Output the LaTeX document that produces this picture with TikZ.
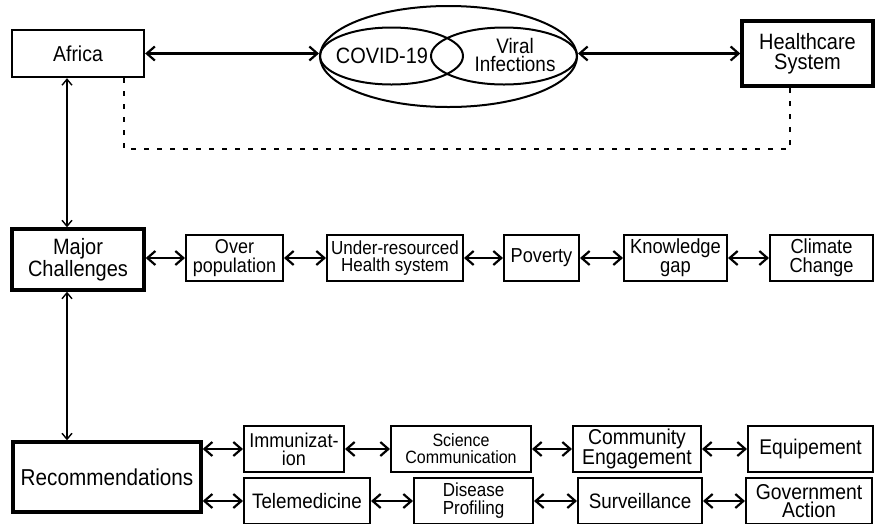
\documentclass[tikz,border=0pt]{standalone}
\usepackage{fontspec}
\setmainfont{Liberation Sans}[FakeStretch=0.9]
\usetikzlibrary{arrows.meta,shapes.geometric}
\newcommand\fsz[2]{\fontsize{#1}{#2}\selectfont}
\tikzset{
  box/.style={draw, line width=2pt, inner sep=0pt, align=center, minimum height=46pt},
  thickbox/.style={box, line width=3.4pt},
  oval/.style={draw, ellipse, line width=2pt, inner sep=0pt},
  tip/.tip={Straight Barb[length=8pt,width=14pt]},
  smalltip/.tip={Straight Barb[length=6pt,width=10pt]},
  link/.style={tip-tip, line width=2.2pt},
  vlink/.style={smalltip-smalltip, line width=1.4pt},
  dotline/.style={line width=1.6pt, dash pattern=on 5pt off 8pt}
}
\begin{document}
\begin{tikzpicture}[x=1pt,y=-1pt]
\useasboundingbox (0,0) rectangle (875,523);
\clip (0,0) rectangle (875,523);
\fill[white] (0,0) rectangle (875,523);
% top row
\node[box, line width=2.3pt, minimum width=132pt, minimum height=47pt, font=\fsz{21.6}{20}] (africa) at (78,53.5) {Africa};
\node[thickbox, minimum width=131pt, minimum height=65pt, font=\fsz{22.2}{20}] (health) at (807.5,53.5) {Healthcare\\System};
\node[oval, minimum width=257pt, minimum height=101pt] (outer) at (448.5,56.5) {};
\node[oval, minimum width=143pt, minimum height=57pt] (covid) at (391.5,56) {};
\node[oval, minimum width=146pt, minimum height=57pt] (viral) at (504,56) {};
\node[inner sep=0pt, font=\fsz{22.2}{20}] (covidtxt) at (382,56) {COVID-19};
\node[inner sep=0pt, align=center, font=\fsz{21}{18}] (viraltxt) at (515,55) {Viral\\Infections};
\draw[link] (africa.east) -- (africa.east -| outer.west);
\draw[link] (health.west -| outer.east) -- (health.west);
\draw[dotline] ([xshift=-21pt]africa.south east) -- ++(0,71) -| ([xshift=-17.5pt]health.south);
% challenges
\node[thickbox, minimum width=132pt, minimum height=61pt, font=\fsz{22.2}{20}] (major) at (78,259.5) {Major\\Challenges};
\node[box, minimum width=97pt, font=\fsz{20}{19}] (over) at (234.5,258) {Over\\population};
\node[box, minimum width=136pt, font=\fsz{18.9}{17}] (under) at (395,258) {Under-resourced\\Health system};
\node[box, minimum width=75pt, font=\fsz{20.2}{19}] (poverty) at (541.5,258) {Poverty};
\node[box, minimum width=103pt, font=\fsz{20.4}{19}] (knowledge) at (675.5,258) {Knowledge\\gap};
\node[box, minimum width=103pt, font=\fsz{20.3}{19}] (climate) at (821.5,258) {Climate\\Change};
\draw[link] (over.west -| major.east) -- (over.west);
\draw[link] (over) -- (under);
\draw[link] (under) -- (poverty);
\draw[link] (poverty) -- (knowledge);
\draw[link] (knowledge) -- (climate);
\draw[vlink] ([xshift=-11pt]africa.south) -- ([xshift=-11pt]major.north);
% recommendations
\node[thickbox, minimum width=188pt, minimum height=70pt, font=\fsz{23}{20}] (rec) at (107,477) {Recommendations};
\draw[vlink] ([xshift=-11pt]major.south) -- ([xshift=-11pt]major.south |- rec.north);
\node[box, minimum width=100pt, font=\fsz{20}{18}] (immun) at (294,449) {Immunizat-\\ion};
\node[box, minimum width=140pt, font=\fsz{17.8}{17}] (sci) at (461,449) {Science\\Communication};
\node[box, minimum width=128pt, font=\fsz{21.5}{18}] (comm) at (637,449) {Community\\Engagement};
\node[box, minimum width=125pt, font=\fsz{21.3}{18}] (equip) at (810.5,449) {Equipement};
\node[box, minimum width=126pt, font=\fsz{20.9}{18}] (tele) at (307,501) {Telemedicine};
\node[box, minimum width=119pt, font=\fsz{18.9}{18}] (disease) at (473.5,501) {Disease\\Profiling};
\node[box, minimum width=124pt, font=\fsz{20.9}{18}] (surv) at (640,501) {Surveillance};
\node[box, minimum width=126pt, font=\fsz{21.5}{18}] (gov) at (809,501) {Government\\Action};
\draw[link] (immun.west -| rec.east) -- (immun.west);
\draw[link] (tele.west -| rec.east) -- (tele.west);
\draw[link] (immun) -- (sci);
\draw[link] (sci) -- (comm);
\draw[link] (comm) -- (equip);
\draw[link] (tele) -- (disease);
\draw[link] (disease) -- (surv);
\draw[link] (surv) -- (gov);
\end{tikzpicture}
\end{document}
